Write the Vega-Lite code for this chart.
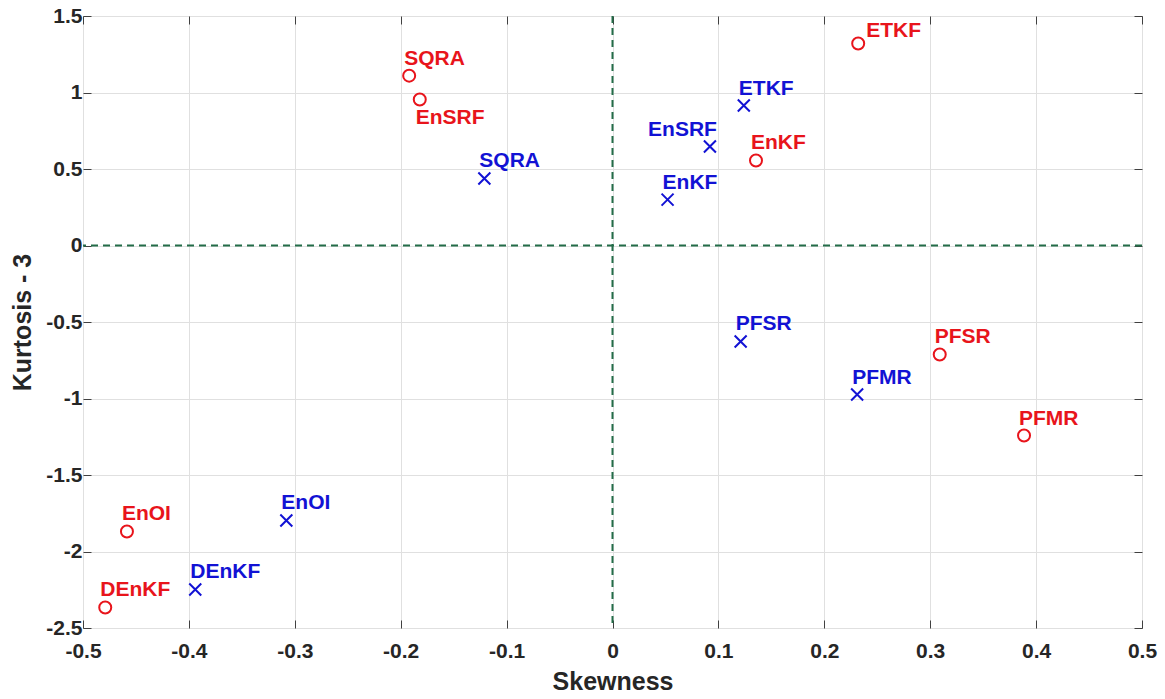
{
  "$schema": "https://vega.github.io/schema/vega-lite/v6.json",
  "width": 1059,
  "height": 612,
  "autosize": {"type": "none"},
  "padding": {"left": 83, "top": 16, "right": 23, "bottom": 71},
  "background": "white",
  "config": {
    "view": {"stroke": "#404040", "strokeWidth": 1},
    "font": "Liberation Sans",
    "axis": {
      "labelFont": "Liberation Sans",
      "labelFontWeight": "bold",
      "labelFontSize": 21,
      "labelColor": "#262626",
      "labelFlush": false,
      "labelOverlap": false,
      "titleFont": "Liberation Sans",
      "titleFontWeight": "bold",
      "titleFontSize": 25,
      "titleColor": "#262626",
      "gridColor": "#e0e0e0",
      "gridWidth": 1,
      "domain": false,
      "tickColor": "#404040",
      "tickWidth": 1
    }
  },
  "data": {
    "values": [
      {"method": "ETKF", "series": "A", "skewness": 0.232, "kurtosis": 1.32},
      {"method": "SQRA", "series": "A", "skewness": -0.192, "kurtosis": 1.11},
      {"method": "EnSRF", "series": "A", "skewness": -0.182, "kurtosis": 0.954},
      {"method": "EnKF", "series": "A", "skewness": 0.1355, "kurtosis": 0.556},
      {"method": "PFSR", "series": "A", "skewness": 0.309, "kurtosis": -0.712},
      {"method": "PFMR", "series": "A", "skewness": 0.3886, "kurtosis": -1.242},
      {"method": "EnOI", "series": "A", "skewness": -0.4585, "kurtosis": -1.869},
      {"method": "DEnKF", "series": "A", "skewness": -0.479, "kurtosis": -2.366},
      {"method": "ETKF", "series": "B", "skewness": 0.124, "kurtosis": 0.915},
      {"method": "EnSRF", "series": "B", "skewness": 0.092, "kurtosis": 0.647},
      {"method": "SQRA", "series": "B", "skewness": -0.121, "kurtosis": 0.438},
      {"method": "EnKF", "series": "B", "skewness": 0.052, "kurtosis": 0.3},
      {"method": "PFSR", "series": "B", "skewness": 0.121, "kurtosis": -0.627},
      {"method": "PFMR", "series": "B", "skewness": 0.231, "kurtosis": -0.974},
      {"method": "EnOI", "series": "B", "skewness": -0.308, "kurtosis": -1.797},
      {"method": "DEnKF", "series": "B", "skewness": -0.394, "kurtosis": -2.248}
    ]
  },
  "resolve": {"axis": {"x": "independent", "y": "independent"}},
  "layer": [
    {
      "mark": {"type": "point", "filled": false, "size": 144, "strokeWidth": 2, "opacity": 1},
      "encoding": {
        "x": {
          "field": "skewness", "type": "quantitative",
          "scale": {"domain": [-0.5, 0.5], "nice": false, "zero": false},
          "axis": {
            "orient": "bottom", "title": "Skewness",
            "values": [-0.5, -0.4, -0.3, -0.2, -0.1, 0, 0.1, 0.2, 0.3, 0.4, 0.5],
            "format": ".1~f",
            "labelExpr": "replace(datum.label, '\u2212', '-')",
            "grid": true, "tickSize": -8, "labelPadding": 20, "titlePadding": 8
          }
        },
        "y": {
          "field": "kurtosis", "type": "quantitative",
          "scale": {"domain": [-2.5, 1.5], "nice": false, "zero": false},
          "axis": {
            "orient": "left", "title": "Kurtosis - 3",
            "values": [-2.5, -2, -1.5, -1, -0.5, 0, 0.5, 1, 1.5],
            "format": "~g",
            "labelExpr": "replace(datum.label, '\u2212', '-')",
            "grid": true, "tickSize": -8, "labelPadding": 9, "titlePadding": 10
          }
        },
        "color": {"field": "series", "type": "nominal", "scale": {"domain": ["A", "B"], "range": ["#e8141b", "#1212d4"]}, "legend": null},
        "shape": {"field": "series", "type": "nominal", "scale": {"domain": ["A", "B"], "range": ["circle", "M-1,-1L1,1M-1,1L1,-1"]}, "legend": null}
      }
    },
    {
      "data": {"values": [{"v": 0}]},
      "mark": {"type": "rule", "color": "#236c48", "strokeWidth": 2, "strokeDash": [7, 5]},
      "encoding": {"x": {"field": "v", "type": "quantitative", "axis": null}}
    },
    {
      "data": {"values": [{"v": 0}]},
      "mark": {"type": "rule", "color": "#236c48", "strokeWidth": 2, "strokeDash": [7, 5]},
      "encoding": {"y": {"field": "v", "type": "quantitative", "axis": null}}
    },
    {
      "transform": [{"filter": "!(datum.series == 'A' && (datum.method == 'ETKF' || datum.method == 'EnSRF')) && !(datum.series == 'B' && datum.method == 'EnSRF')"}],
      "mark": {"type": "text", "align": "left", "baseline": "alphabetic", "dx": -5, "dy": -11, "fontSize": 21, "fontWeight": "bold", "font": "Liberation Sans"},
      "encoding": {
        "x": {"field": "skewness", "type": "quantitative", "axis": {"orient": "top", "title": null, "labels": false, "grid": false, "tickSize": -8, "values": [-0.5, -0.4, -0.3, -0.2, -0.1, 0, 0.1, 0.2, 0.3, 0.4, 0.5]}},
        "y": {"field": "kurtosis", "type": "quantitative", "axis": {"orient": "right", "title": null, "labels": false, "grid": false, "tickSize": -8, "values": [-2.5, -2, -1.5, -1, -0.5, 0, 0.5, 1, 1.5]}},
        "text": {"field": "method"},
        "color": {"field": "series", "type": "nominal", "legend": null}
      }
    },
    {
      "transform": [{"filter": "datum.series == 'A' && datum.method == 'ETKF'"}],
      "mark": {"type": "text", "align": "left", "baseline": "alphabetic", "dx": 8, "dy": -7, "fontSize": 21, "fontWeight": "bold", "font": "Liberation Sans"},
      "encoding": {
        "x": {"field": "skewness", "type": "quantitative", "axis": null},
        "y": {"field": "kurtosis", "type": "quantitative", "axis": null},
        "text": {"field": "method"},
        "color": {"field": "series", "type": "nominal", "legend": null}
      }
    },
    {
      "transform": [{"filter": "datum.series == 'A' && datum.method == 'EnSRF'"}],
      "mark": {"type": "text", "align": "left", "baseline": "alphabetic", "dx": -4, "dy": 24, "fontSize": 21, "fontWeight": "bold", "font": "Liberation Sans"},
      "encoding": {
        "x": {"field": "skewness", "type": "quantitative", "axis": null},
        "y": {"field": "kurtosis", "type": "quantitative", "axis": null},
        "text": {"field": "method"},
        "color": {"field": "series", "type": "nominal", "legend": null}
      }
    },
    {
      "transform": [{"filter": "datum.series == 'B' && datum.method == 'EnSRF'"}],
      "mark": {"type": "text", "align": "right", "baseline": "alphabetic", "dx": 7, "dy": -11, "fontSize": 21, "fontWeight": "bold", "font": "Liberation Sans"},
      "encoding": {
        "x": {"field": "skewness", "type": "quantitative", "axis": null},
        "y": {"field": "kurtosis", "type": "quantitative", "axis": null},
        "text": {"field": "method"},
        "color": {"field": "series", "type": "nominal", "legend": null}
      }
    }
  ]
}
